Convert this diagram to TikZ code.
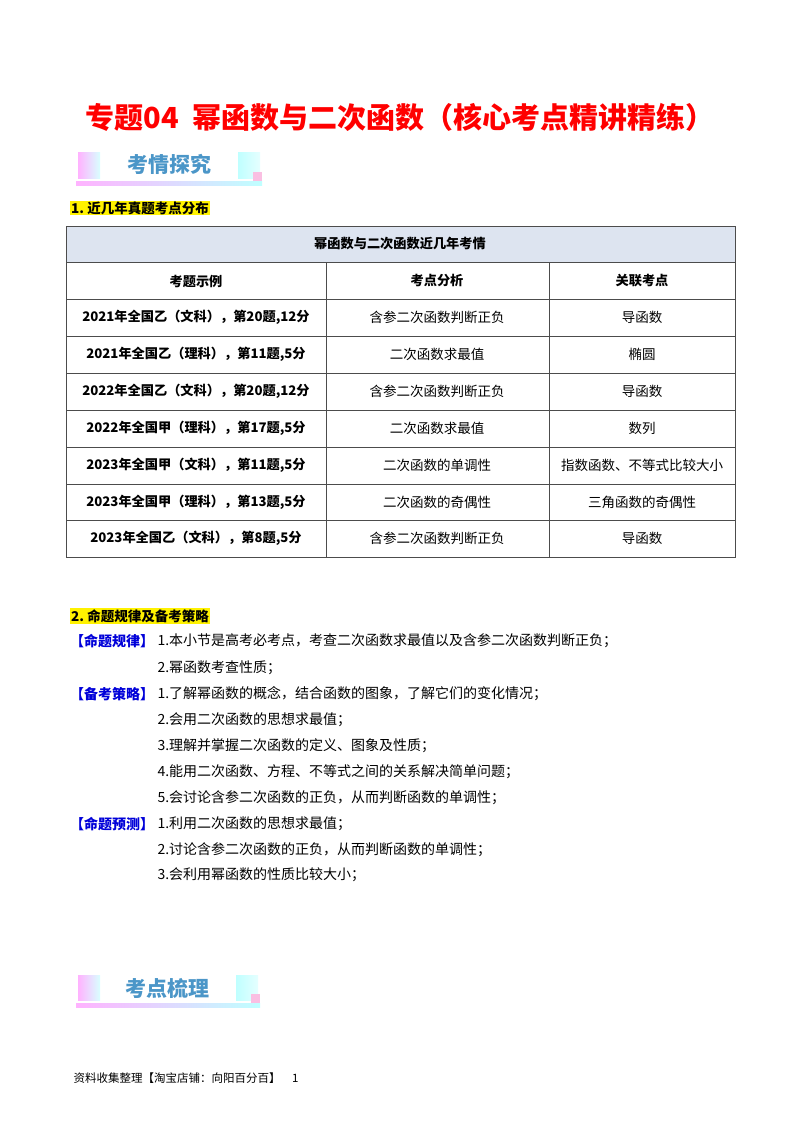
\documentclass[tikz,border=0pt]{standalone}
\usepackage{fontspec}
\setmainfont{Noto Sans CJK SC}
\newfontfamily\cjk{Noto Sans CJK SC}
\definecolor{hdr}{RGB}{221,228,240}
\definecolor{bant}{RGB}{75,150,200}
\begin{document}
\begin{tikzpicture}[x=1pt,y=-1pt,
  cell/.style={font=\fontsize{13.5}{15}\selectfont},
  bcell/.style={font=\fontsize{13.2}{15}\selectfont\bfseries},
  body/.style={anchor=west,font=\fontsize{14}{16}\selectfont},
  tag/.style={anchor=west,inner sep=0pt,font=\fontsize{14}{16}\selectfont\bfseries,text=blue!85!black},
  hl/.style={anchor=west,fill=yellow,inner sep=1pt,font=\fontsize{13.5}{15}\selectfont\bfseries},
  bantext/.style={font=\fontsize{21}{24}\selectfont\bfseries,text=bant}]
\useasboundingbox (0,0) rectangle (800,1132);
\fill[white] (0,0) rectangle (800,1132);
\node[font=\fontsize{29}{33}\selectfont\bfseries,text=red] (title) at (400,117) {专题04\ \ 幂函数与二次函数（核心考点精讲精练）};
% banner 1
\shade[left color=magenta!30,right color=cyan!15] (78,152) rectangle (100,178);
\shade[left color=cyan!25,right color=cyan!10] (238,152) rectangle (260,178);
\fill[magenta!25] (253,172) rectangle (262,182);
\shade[left color=magenta!30,right color=cyan!25] (76,181) rectangle (262,185);
\node[bantext] (b1) at (169,164) {考情探究};
\node[hl] (s1) at (70,208) {1.\ 近几年真题考点分布};
% table
\fill[hdr] (66,226) rectangle (735,262);
\draw[gray!60!black,line width=0.6pt] (66,226) rectangle (735,557);
\foreach \y in {262,299,336,373,410,447,484,520} \draw[gray!60!black,line width=0.5pt] (66,\y) -- (735,\y);
\draw[gray!60!black,line width=0.5pt] (326,262) -- (326,557) (549,262) -- (549,557);
\node[bcell] (th) at (400,244) {幂函数与二次函数近几年考情};
\node[bcell] (h1) at (196,281) {考题示例};
\node[bcell] (h2) at (437,281) {考点分析};
\node[bcell] (h3) at (642,281) {关联考点};
\foreach \y/\a/\b/\c in {
 317.5/{2021年全国乙（文科），第20题,12分}/含参二次函数判断正负/导函数,
 354.5/{2021年全国乙（理科），第11题,5分}/二次函数求最值/椭圆,
 391.5/{2022年全国乙（文科），第20题,12分}/含参二次函数判断正负/导函数,
 428.5/{2022年全国甲（理科），第17题,5分}/二次函数求最值/数列,
 465.5/{2023年全国甲（文科），第11题,5分}/二次函数的单调性/指数函数、不等式比较大小,
 502/{2023年全国甲（理科），第13题,5分}/二次函数的奇偶性/三角函数的奇偶性,
 538.5/{2023年全国乙（文科），第8题,5分}/含参二次函数判断正负/导函数}{
 \node[bcell] at (196,\y) {\a};
 \node[cell] at (437,\y) {\b};
 \node[cell] at (642,\y) {\c};
}
\node[hl] (s2) at (70,616) {2.\ 命题规律及备考策略};
\node[tag] (t1) at (70,641) {【命题规律】};
\node[body] at (154,641) {1.本小节是高考必考点，考查二次函数求最值以及含参二次函数判断正负；};
\node[body] at (154,668) {2.幂函数考查性质；};
\node[tag] (t2) at (70,694) {【备考策略】};
\node[body] at (154,694) {1.了解幂函数的概念，结合函数的图象，了解它们的变化情况；};
\node[body] at (154,720) {2.会用二次函数的思想求最值；};
\node[body] at (154,746) {3.理解并掌握二次函数的定义、图象及性质；};
\node[body] at (154,772) {4.能用二次函数、方程、不等式之间的关系解决简单问题；};
\node[body] at (154,798) {5.会讨论含参二次函数的正负，从而判断函数的单调性；};
\node[tag] (t3) at (70,824) {【命题预测】};
\node[body] at (154,824) {1.利用二次函数的思想求最值；};
\node[body] at (154,850) {2.讨论含参二次函数的正负，从而判断函数的单调性；};
\node[body] at (154,875) {3.会利用幂函数的性质比较大小；};
% banner 2
\shade[left color=magenta!30,right color=cyan!15] (78,975) rectangle (100,1000);
\shade[left color=cyan!25,right color=cyan!10] (236,975) rectangle (258,1000);
\fill[magenta!25] (251,994) rectangle (260,1004);
\shade[left color=magenta!30,right color=cyan!25] (76,1003) rectangle (260,1007);
\node[bantext] (b2) at (167,988) {考点梳理};
\node[anchor=west,font=\fontsize{11.5}{13}\selectfont] (foot) at (70,1078) {资料收集整理【淘宝店铺：向阳百分百】\quad 1};
\end{tikzpicture}
\end{document}
